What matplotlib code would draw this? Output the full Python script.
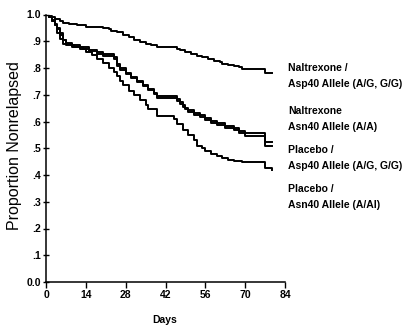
import numpy as np
import matplotlib
matplotlib.use("Agg")
import matplotlib.pyplot as plt

plt.rcParams['font.family'] = ['Liberation Sans', 'DejaVu Sans']

# Kaplan-Meier style step data (days, proportion nonrelapsed)
nal_asp_days = [0, 1, 2, 3, 5, 6, 8, 11, 14, 17, 20, 22, 23, 25, 27, 29, 31, 33, 35, 37, 39,
                46, 47, 49, 51, 53, 55, 57, 59, 61, 62, 64, 66, 68, 69, 77, 79.5]
nal_asp_surv = [1.0, 0.995, 0.99, 0.985, 0.975, 0.97, 0.965, 0.96, 0.955, 0.952, 0.948, 0.945,
                0.94, 0.935, 0.925, 0.915, 0.905, 0.897, 0.89, 0.885, 0.878,
                0.872, 0.866, 0.86, 0.852, 0.846, 0.84, 0.835, 0.828, 0.822, 0.816, 0.812, 0.806,
                0.802, 0.797, 0.78, 0.78]

nal_asn_days = [0, 1, 2, 3, 4, 5, 6, 7, 9, 12, 15, 18, 20, 24, 25, 26, 28, 30, 32, 34, 36, 38,
                39, 46, 47, 48, 49, 50, 52, 54, 56, 58, 60, 63, 66, 68, 70, 77, 79.5]
nal_asn_surv = [1.0, 0.99, 0.975, 0.96, 0.945, 0.93, 0.905, 0.895, 0.885, 0.877, 0.868, 0.86,
                0.853, 0.84, 0.815, 0.80, 0.782, 0.768, 0.752, 0.737, 0.722, 0.708,
                0.694, 0.684, 0.672, 0.662, 0.652, 0.643, 0.632, 0.623, 0.613, 0.603, 0.594,
                0.584, 0.574, 0.566, 0.556, 0.522, 0.522]

pla_asp_days = [0, 1, 2, 3, 4, 5, 6, 7, 9, 12, 15, 18, 20, 24, 25, 26, 28, 30, 32, 34, 36, 38,
                39, 46, 47, 48, 49, 50, 52, 54, 56, 58, 60, 63, 66, 68, 70, 77, 79.5]
pla_asp_surv = [1.0, 0.99, 0.98, 0.965, 0.95, 0.925, 0.905, 0.89, 0.88, 0.871, 0.862, 0.853,
                0.846, 0.834, 0.808, 0.794, 0.776, 0.762, 0.746, 0.731, 0.716, 0.702,
                0.687, 0.677, 0.665, 0.655, 0.645, 0.636, 0.625, 0.616, 0.606, 0.596, 0.587,
                0.577, 0.567, 0.558, 0.545, 0.507, 0.507]

pla_asn_days = [0, 1, 2, 3, 4, 5, 6, 7, 10, 13, 14, 16, 18, 20, 22, 24, 25, 26, 27, 29, 31, 33,
                35, 36, 39, 45, 46, 48, 50, 52, 53, 55, 56, 58, 60, 62, 64, 66, 69, 77, 79.5]
pla_asn_surv = [1.0, 0.99, 0.975, 0.96, 0.93, 0.91, 0.89, 0.885, 0.88, 0.87, 0.86, 0.85, 0.835,
                0.82, 0.80, 0.785, 0.77, 0.75, 0.735, 0.715, 0.70, 0.68, 0.66,
                0.645, 0.62, 0.61, 0.59, 0.57, 0.55, 0.53, 0.51, 0.5, 0.49, 0.48, 0.47,
                0.462, 0.457, 0.452, 0.447, 0.428, 0.42]

series = [(nal_asp_days, nal_asp_surv), (nal_asn_days, nal_asn_surv),
          (pla_asp_days, pla_asp_surv), (pla_asn_days, pla_asn_surv)]

labels = [("Naltrexone /", "Asp40 Allele (A/G, G/G)"),
          ("Naltrexone", "Asn40 Allele (A/A)"),
          ("Placebo /", "Asp40 Allele (A/G, G/G)"),
          ("Placebo /", "Asn40 Allele (A/Al)")]
label_y = [68, 111, 150, 189]  # top line of each label, in pixels from top

x_ticks = [0, 14, 28, 42, 56, 70, 84]
y_ticks = [0.0, 0.1, 0.2, 0.3, 0.4, 0.5, 0.6, 0.7, 0.8, 0.9, 1.0]
y_tick_labels = ["0.0", ".1", ".2", ".3", ".4", ".5", ".6", ".7", ".8", ".9", "1.0"]

W, H = 409, 329
fig = plt.figure(figsize=(W / 100, H / 100), dpi=100)
ax = fig.add_axes([46 / W, 1 - 282 / H, (285 - 46) / W, (282 - 14.5) / H])

for d, s in series:
    ax.step(d, s, where='post', color='black', lw=1.4)

ax.set_xlim(0, 84)
ax.set_ylim(0, 1.0)
ax.set_xticks(x_ticks)
ax.set_xticklabels([str(t) for t in x_ticks], fontweight='bold', fontsize=7.5)
ax.set_yticks(y_ticks)
ax.set_yticklabels(y_tick_labels, fontweight='bold', fontsize=7.5)
ax.tick_params(axis='y', direction='inout', length=5, width=1, pad=1)
ax.tick_params(axis='x', direction='out', length=4, width=1, pad=2)
for side in ['top', 'right']:
    ax.spines[side].set_visible(False)
for side in ['left', 'bottom']:
    ax.spines[side].set_linewidth(1.1)

fig.text(15 / W, 1 - 146 / H, "Proportion Nonrelapsed", fontsize=11.5, rotation=90,
         ha='center', va='center')
fig.text(165 / W, 1 - 320 / H, "Days", fontweight='bold', fontsize=7.5,
         ha='center', va='center')

for (l1, l2), yp in zip(labels, label_y):
    fig.text(288 / W, 1 - yp / H, l1, fontweight='bold', fontsize=7.5, va='center')
    fig.text(288 / W, 1 - (yp + 16) / H, l2, fontweight='bold', fontsize=7.5, va='center')

fig.savefig("out.png", dpi=100)
